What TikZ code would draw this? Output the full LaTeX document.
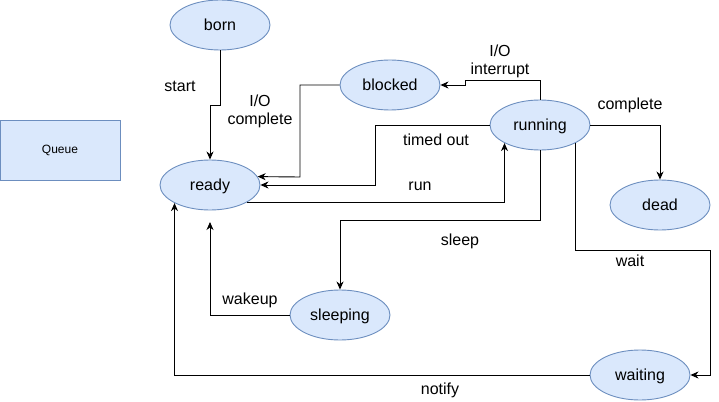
\documentclass[tikz,border=0pt]{standalone}
\usepackage{fontspec}
\setmainfont{Liberation Sans}
\usetikzlibrary{shapes.geometric,arrows.meta}
\definecolor{sfill}{HTML}{DAE8FC}
\definecolor{sdraw}{HTML}{6C8EBF}
\begin{document}
\begin{tikzpicture}[x=1pt,y=-1pt,
  state/.style={ellipse, draw=sdraw, fill=sfill, line width=0.9pt, inner sep=0pt,
    minimum width=100pt, minimum height=50pt, text height=11pt, text depth=0pt,
    font=\fontsize{16}{18}\selectfont},
  box/.style={rectangle, draw=sdraw, fill=sfill, line width=0.9pt, inner sep=0pt,
    minimum width=120pt, minimum height=60pt, font=\fontsize{12}{14}\selectfont},
  lbl/.style={inner sep=0pt, align=center, font=\fontsize{16}{18}\selectfont},
  arr/.style={draw=black, line width=0.9pt, -{Stealth[length=8pt,width=7pt,inset=2.5pt]}}
]
\useasboundingbox (0,0) rectangle (719,401);

\node[box] (queue) at (60,150) {Queue};

\node[state] (born) at (220,25) {born};
\node[state] (ready) at (210,185) {ready};
\node[state] (blocked) at (390,85) {blocked};
\node[state] (running) at (540,125) {running};
\node[state] (dead) at (660,205) {dead};
\node[state] (sleeping) at (340,315) {sleeping};
\node[state] (waiting) at (640,375) {waiting};

\coordinate (wk) at (210,222);

% born -> ready
\draw[arr] (born.south) -- (220,105) -| (ready.north);
% blocked -> ready
\draw[arr] (blocked.west) -| (300,177) -- (ready.10);
% running -> ready (timed out)
\draw[arr] (running.west) -| (375,185) -- (ready.east);
% ready -> running (run)
\draw[arr] (ready.-25) -| (running.207);
% running -> blocked (I/O interrupt)
\draw[arr] (running.north) -- (540,80) -| (465,85) -- (blocked.east);
% running -> dead
\draw[arr] (running.east) -| (dead.north);
% running -> sleeping
\draw[arr] (running.south) -- (540,220) -| (sleeping.north);
% running -> waiting
\draw[arr] (running.-27) |- (710,250) |- (waiting.east);
% sleeping -> ready (wakeup)
\draw[arr] (sleeping.west) -| (wk);
% waiting -> ready (notify)
\draw[arr] (waiting.west) -| (ready.207);

% labels
\node[lbl] (l1) at (180,86) {start};
\node[lbl] (l2) at (260,111) {I/O\\complete};
\node[lbl] (l3) at (436,140) {timed out};
\node[lbl] (l4) at (420,186) {run};
\node[lbl] (l5) at (500,61) {I/O\\interrupt};
\node[lbl] (l6) at (630,105) {complete};
\node[lbl] (l7) at (460,241) {sleep};
\node[lbl] (l8) at (630,261) {wait};
\node[lbl] (l9) at (250,300) {wakeup};
\node[lbl] (l10) at (440,390) {notify};
\end{tikzpicture}
\end{document}
